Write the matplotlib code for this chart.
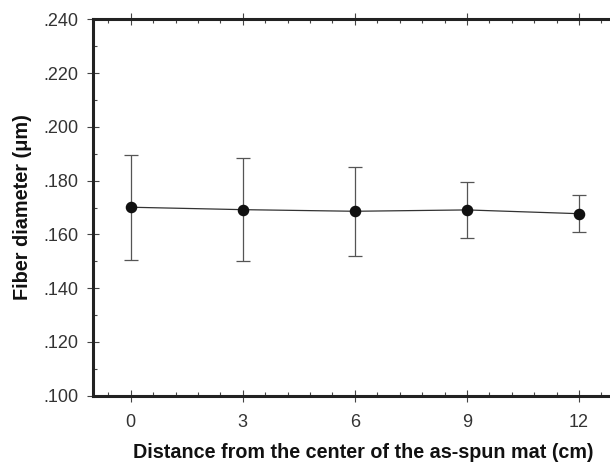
import numpy as np
import matplotlib.pyplot as plt
from matplotlib.ticker import MultipleLocator, FuncFormatter

# values
distance = [0, 3, 6, 9, 12]
diameter = [0.1701, 0.1692, 0.1686, 0.1691, 0.1677]
err_top = [0.1897, 0.1883, 0.1849, 0.1794, 0.1745]
err_bot = [0.1506, 0.1501, 0.1521, 0.1587, 0.1608]

x_ticks = [0, 3, 6, 9, 12]
y_ticks = [0.100, 0.120, 0.140, 0.160, 0.180, 0.200, 0.220, 0.240]

plt.rcParams['font.family'] = ['Liberation Sans', 'DejaVu Sans']

fig = plt.figure(figsize=(6.1, 4.65), dpi=100)
ax = fig.add_axes([0.153, 0.149, 0.8575, 0.8095])

y = np.array(diameter)
yerr = [y - np.array(err_bot), np.array(err_top) - y]
ax.errorbar(distance, diameter, yerr=yerr, fmt='none', ecolor='#555555',
            elinewidth=0.9, capsize=5, capthick=0.9, zorder=2)
ax.plot(distance, diameter, color='#333333', lw=0.9, zorder=3)
ax.plot(distance, diameter, 'o', color='#111111', ms=7.3, zorder=4)

ax.set_xlim(-1, 13)
ax.set_ylim(0.100, 0.240)
ax.set_xticks(x_ticks)
ax.set_yticks(y_ticks)
ax.xaxis.set_minor_locator(MultipleLocator(0.6))
ax.yaxis.set_minor_locator(MultipleLocator(0.010))
ax.yaxis.set_major_formatter(FuncFormatter(lambda v, p: f'{v:.3f}'.lstrip('0')))

for s in ['left', 'bottom', 'top', 'right']:
    ax.spines[s].set_linewidth(2.2)
    ax.spines[s].set_color('#222222')

ax.tick_params(which='major', direction='inout', length=8, width=0.8,
               color='#444444', labelsize=13, top=True, labelcolor='#333333')
ax.tick_params(which='minor', direction='in', length=3, width=0.8,
               color='#444444', top=True)
ax.tick_params(axis='x', which='major', pad=9)
ax.tick_params(axis='y', which='major', pad=7)

ax.set_xlabel('Distance from the center of the as-spun mat (cm)',
              fontsize=14.2, fontweight='bold', labelpad=9, color='#111111')
ax.set_ylabel('Fiber diameter (\u03bcm)', fontsize=14.3, fontweight='bold',
              labelpad=10, color='#111111')
# label sits a bit right of the (cropped) axes centre in the original
ax.xaxis.set_label_coords(0.5157, -0.125)
ax.yaxis.set_label_coords(-0.117, 0.5)

fig.savefig('out.png', dpi=100)
